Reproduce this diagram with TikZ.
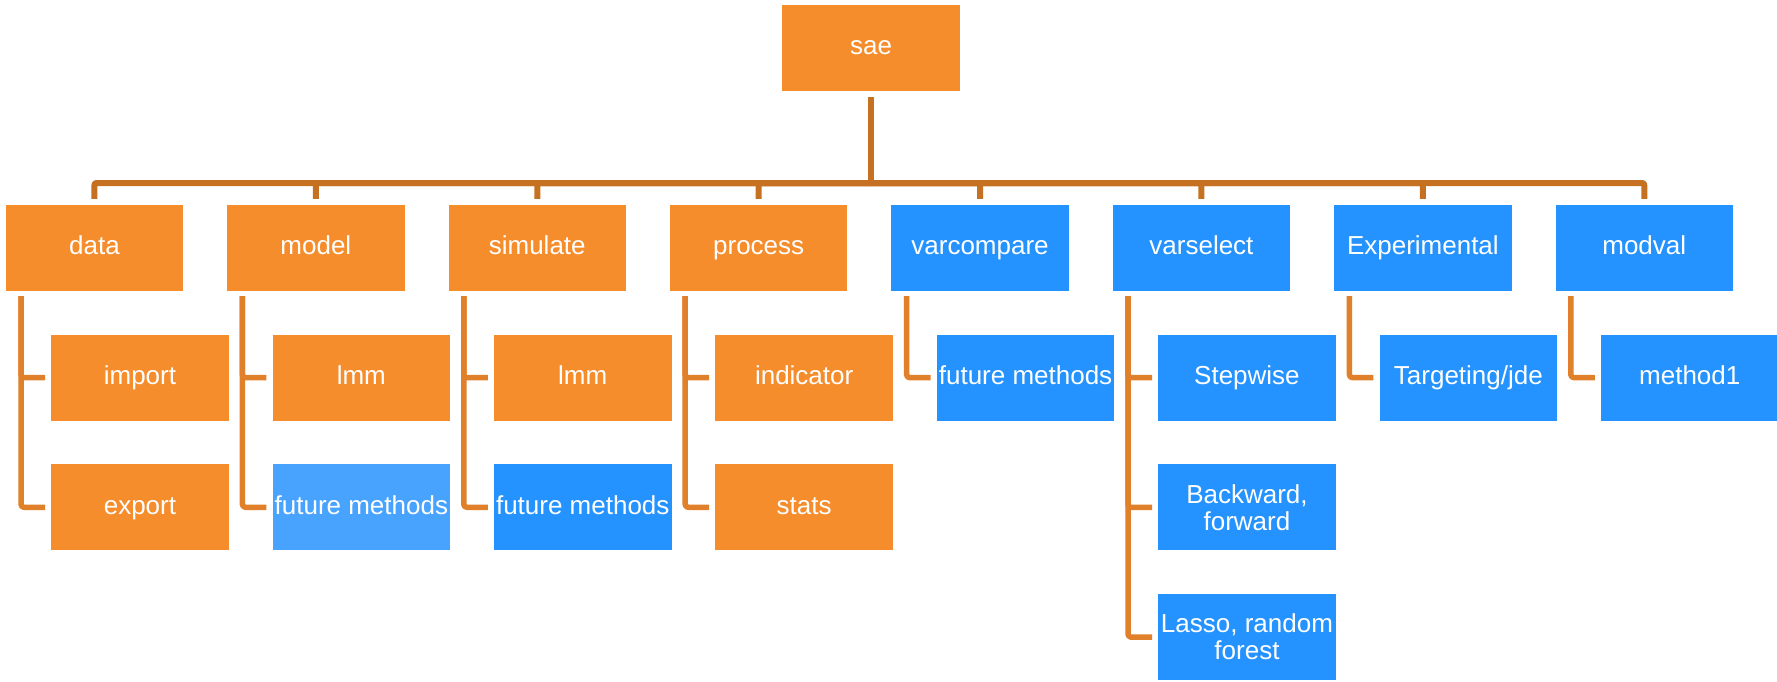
\documentclass[tikz,border=0pt]{standalone}
\usepackage{fontspec}
\setmainfont{Liberation Sans}
\definecolor{boxorange}{RGB}{246,141,45}
\definecolor{boxblue}{RGB}{37,147,255}
\definecolor{boxlightblue}{RGB}{72,163,255}
\definecolor{topline}{RGB}{197,113,33}
\definecolor{subline}{RGB}{225,128,42}
\tikzset{
  cellbase/.style={rectangle, minimum width=177.5pt, minimum height=85.7pt, inner sep=0pt,
    text=white, align=center, font=\fontsize{26}{27}\selectfont},
  cell/.style={cellbase, text height=19pt, text depth=5.5pt},
  ocell/.style={cell, fill=boxorange},
  bcell/.style={cell, fill=boxblue},
  lbcell/.style={cell, fill=boxlightblue},
  bcelltwo/.style={cellbase, fill=boxblue},
  topconn/.style={draw=topline, line width=6pt, rounded corners=2pt, line join=round},
  subconn/.style={draw=subline, line width=5.5pt, rounded corners=3pt, line join=round},
}
\begin{document}
\begin{tikzpicture}[x=1pt,y=-1pt]
\useasboundingbox (0,0) rectangle (1777,681);
% root
\node[ocell] (sae) at (871,47.85) {sae};
% level 1
\node[ocell] (data) at (94.45,247.85) {data};
\node[ocell] (model) at (315.85,247.85) {model};
\node[ocell] (simulate) at (537.25,247.85) {simulate};
\node[ocell] (process) at (758.65,247.85) {process};
\node[bcell] (varcompare) at (980.05,247.85) {varcompare};
\node[bcell] (varselect) at (1201.45,247.85) {varselect};
\node[bcell] (experimental) at (1422.85,247.85) {Experimental};
\node[bcell] (modval) at (1644.25,247.85) {modval};
% level 2
\node[ocell] (import) at (139.95,377.65) {import};
\node[ocell] (export) at (139.95,507.3) {export};
\node[ocell] (lmmA) at (361.35,377.65) {lmm};
\node[lbcell] (futA) at (361.35,507.3) {future methods};
\node[ocell] (lmmB) at (582.75,377.65) {lmm};
\node[bcell] (futB) at (582.75,507.3) {future methods};
\node[ocell] (indicator) at (804.15,377.65) {indicator};
\node[ocell] (stats) at (804.15,507.3) {stats};
\node[bcell] (futC) at (1025.55,377.65) {future methods};
\node[bcell] (stepwise) at (1246.95,377.65) {Stepwise};
\node[bcelltwo] (backward) at (1246.95,507.3) {Backward,\\forward};
\node[bcelltwo] (lasso) at (1246.95,637.15) {Lasso, random\\forest};
\node[bcell] (targeting) at (1468.35,377.65) {Targeting/jde};
\node[bcell] (method1) at (1689.75,377.65) {method1};
% top connectors
\coordinate (bus) at (871,183);
\draw[topconn] ([yshift=-6pt]sae.south) -- (bus);
\foreach \n in {data,model,simulate,process,varcompare,varselect,experimental,modval}
  \draw[topconn] ([yshift=6pt]\n.north) |- (bus);
% sub connectors
\foreach \p/\c in {data/import,data/export,model/lmmA,model/futA,simulate/lmmB,simulate/futB,
  process/indicator,process/stats,varcompare/futC,varselect/stepwise,varselect/backward,
  varselect/lasso,experimental/targeting,modval/method1}
  \draw[subconn] ([xshift=15.5pt,yshift=-5.3pt]\p.south west) |- ([xshift=-6pt]\c.west);
\end{tikzpicture}
\end{document}
